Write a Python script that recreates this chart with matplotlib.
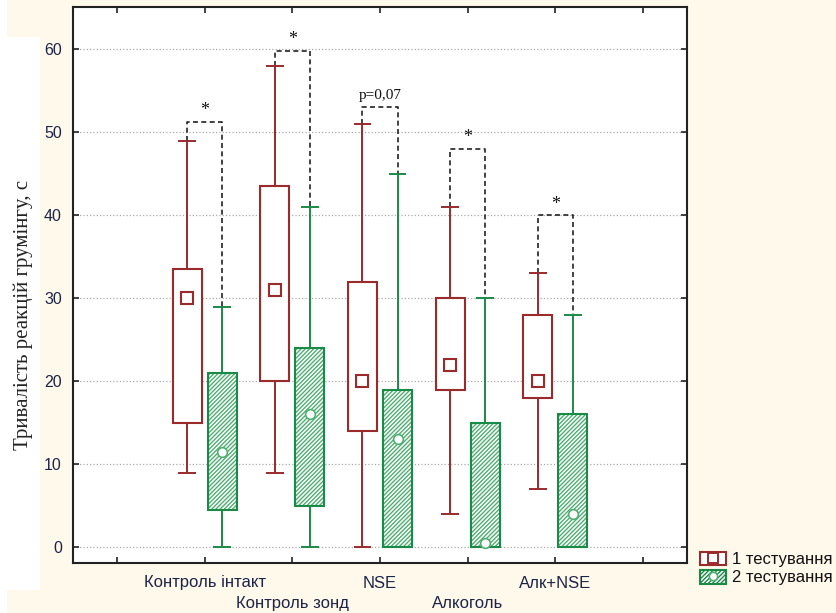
import matplotlib.pyplot as plt
import matplotlib.patches as mpatches
from matplotlib.lines import Line2D
import numpy as np

# groups and box statistics
groups = ['Контроль інтакт', 'Контроль зонд', 'NSE', 'Алкоголь', 'Алк+NSE']
t1_low = [9, 9, 0, 4, 7]
t1_q1 = [15, 20, 14, 19, 18]
t1_med = [30, 31, 20, 22, 20]
t1_q3 = [33.5, 43.5, 32, 30, 28]
t1_high = [49, 58, 51, 41, 33]
t2_low = [0, 0, 0, 0, 0]
t2_q1 = [4.5, 5, 0, 0, 0]
t2_med = [11.5, 16, 13, 0.5, 4]
t2_q3 = [21, 24, 19, 15, 16]
t2_high = [29, 41, 45, 30, 28]
bracket_top = [51.3, 59.8, 53, 48, 40]
sig_labels = ['*', '*', 'p=0,07', '*', '*']
tick_labels = ['', 'Контроль інтакт', 'Контроль зонд', 'NSE', 'Алкоголь', 'Алк+NSE', '']

red = '#9a2a2c'
green = '#1a8a47'
light_green = '#4fae72'
text_col = '#1c2448'

fig = plt.figure(figsize=(8.37, 6.13), dpi=100, facecolor='#fff9ec')
# white strips of the screenshot background
fig.patches.append(mpatches.Rectangle((0, 0), 7 / 837, 1, transform=fig.transFigure,
                                      facecolor='white', edgecolor='none', zorder=-10))
fig.patches.append(mpatches.Rectangle((7 / 837, 23 / 613), 33 / 837, (576 - 23) / 613,
                                      transform=fig.transFigure, facecolor='white',
                                      edgecolor='none', zorder=-10))
ax = fig.add_axes([73 / 837, 50 / 613, 614 / 837, 556 / 613])
ax.set_facecolor('white')

x = np.arange(1, len(groups) + 1)
off = 0.2
bw = 0.33
cap = 0.1
xr = x - off
xg = x + off

t1_low, t1_q1, t1_med, t1_q3, t1_high = map(np.array, (t1_low, t1_q1, t1_med, t1_q3, t1_high))
t2_low, t2_q1, t2_med, t2_q3, t2_high = map(np.array, (t2_low, t2_q1, t2_med, t2_q3, t2_high))

# 1 тестування
ax.vlines(xr, t1_q3, t1_high, color=red, lw=1.4, zorder=3)
ax.vlines(xr, t1_low, t1_q1, color=red, lw=1.4, zorder=3)
ax.hlines(t1_high, xr - cap, xr + cap, color=red, lw=1.4, zorder=3)
ax.hlines(t1_low, xr - cap, xr + cap, color=red, lw=1.4, zorder=3)
ax.bar(xr, t1_q3 - t1_q1, bottom=t1_q1, width=bw, facecolor='white', edgecolor=red,
       lw=1.5, zorder=4)
ax.plot(xr, t1_med, ls='none', marker='s', ms=8, mfc='white', mec=red, mew=1.5, zorder=5)

# 2 тестування
ax.vlines(xg, t2_q3, t2_high, color=green, lw=1.4, zorder=3)
ax.vlines(xg, t2_low, t2_q1, color=green, lw=1.4, zorder=3)
ax.hlines(t2_high, xg - cap, xg + cap, color=green, lw=1.4, zorder=3)
ax.hlines(t2_low, xg - cap, xg + cap, color=green, lw=1.4, zorder=3)
ax.bar(xg, t2_q3 - t2_q1, bottom=t2_q1, width=bw, facecolor='white', edgecolor=light_green,
       hatch='////////', lw=0, zorder=4)
ax.bar(xg, t2_q3 - t2_q1, bottom=t2_q1, width=bw, fill=False, edgecolor=green, lw=1.5, zorder=4)
ax.plot(xg, t2_med, ls='none', marker='o', ms=7, mfc='white', mec=light_green, mew=1.2, zorder=5)

# significance brackets
for i in range(len(groups)):
    ax.plot([xr[i], xr[i], xg[i], xg[i]], [t1_high[i], bracket_top[i], bracket_top[i], t2_high[i]],
            color='#222222', lw=1.2, dashes=(3, 2), zorder=2)
    lab = sig_labels[i]
    ax.text(x[i], bracket_top[i] + (0.3 if lab == '*' else 0.7), lab, ha='center', va='bottom',
            fontsize=13 if lab == '*' else 11, family='Liberation Serif', color='#111111')

ax.set_xlim(-0.5, 6.5)
ax.set_ylim(-1.9, 65.1)
ax.set_yticks([0, 10, 20, 30, 40, 50, 60])
ax.set_xticks(np.arange(7))
ax.set_xticklabels(tick_labels, family='Liberation Sans', fontsize=12, color=text_col)
for lbl in ax.get_yticklabels():
    lbl.set_family('Liberation Sans')
    lbl.set_fontsize(11.5)
    lbl.set_color(text_col)
ax.tick_params(direction='in', length=4, width=1.2, top=True, right=True, color='#222222')
ax.tick_params(axis='y', pad=8)
ax.tick_params(axis='x', pad=9)
# staggered second row of category labels
xt = ax.xaxis.get_major_ticks()
for k in (2, 4):
    xt[k].set_pad(24)
ax.grid(axis='y', ls=':', color='#aaaaaa', lw=0.9, zorder=0)
ax.set_axisbelow(True)
for s in ax.spines.values():
    s.set_linewidth(1.5)
    s.set_color('#222222')

ax.set_ylabel('Тривалість реакцій грумінгу, с', family='Liberation Serif', fontsize=15,
              color='#222222')
ax.yaxis.set_label_coords(-0.065, 0.446)

h1 = (mpatches.Rectangle((0, 0), 1, 1, facecolor='white', edgecolor=red, lw=1.5),
      Line2D([], [], ls='none', marker='s', ms=7, mfc='white', mec=red, mew=1.4))
h2 = (mpatches.Rectangle((0, 0), 1, 1, facecolor='white', edgecolor=green, hatch='////////', lw=1.5),
      Line2D([], [], ls='none', marker='o', ms=6, mfc='white', mec=light_green, mew=1.2))
fig.legend([h1, h2], ['1 тестування', '2 тестування'], loc='lower left',
           bbox_to_anchor=(688 / 837, 16 / 613), frameon=False, handlelength=1.6,
           handleheight=0.9, handletextpad=0.35, labelspacing=0.15, borderpad=0.2,
           prop={'family': 'Liberation Sans', 'size': 12}, labelcolor='#111111')

fig.savefig('out.png', dpi=100, facecolor=fig.get_facecolor())
